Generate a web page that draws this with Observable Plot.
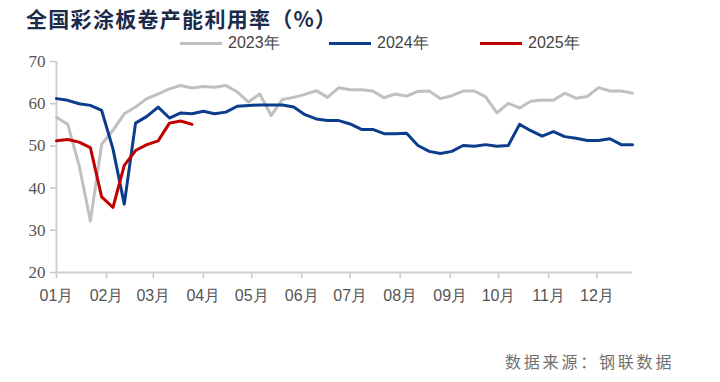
<!DOCTYPE html>
<html><head><meta charset="utf-8">
<script src="https://cdn.jsdelivr.net/npm/d3@7"></script>
<script src="https://cdn.jsdelivr.net/npm/@observablehq/plot@0.6"></script>
<style>
body{margin:0;background:#fff;}
#wrap{position:relative;width:720px;height:382px;overflow:hidden;font-family:"Liberation Sans",Arial,sans-serif;}
#title{position:absolute;left:26px;top:4px;font-weight:700;font-size:21px;line-height:28px;letter-spacing:1.3px;font-family:"Noto Sans CJK SC",sans-serif;color:#1c2b4a;white-space:nowrap;}
.leg{position:absolute;top:33px;height:20px;line-height:20px;display:flex;align-items:center;font-size:16px;color:#444;white-space:nowrap;}
.leg .sw{display:inline-block;width:42px;height:3px;margin-right:6px;}
#plot{position:absolute;left:0;top:50px;}
#src{position:absolute;left:505px;top:350px;font-size:16px;line-height:22px;font-family:"Noto Sans CJK SC",sans-serif;color:#707070;letter-spacing:2.8px;white-space:nowrap;}
</style></head>
<body>
<div id="wrap">
  <div id="title"></div>
  <div id="legend"></div>
  <div id="plot"></div>
  <div id="src"></div>
</div>
<script>
const titleText = "全国彩涂板卷产能利用率（%）";
const sourceText = "数据来源：钢联数据";
const seriesNames = ["2023年", "2024年", "2025年"];
const seriesColors = ["#c0c0c0", "#0b3d8c", "#c00000"];
const monthLabels = ["01月","02月","03月","04月","05月","06月","07月","08月","09月","10月","11月","12月"];

const v2023 = [56.8, 55.1, 45.4, 32.2, 50.4, 53.7, 57.6, 59.2, 61.2, 62.3, 63.5, 64.3, 63.7, 64.1, 63.9, 64.3,
  62.8, 60.4, 62.3, 57.2, 61.0, 61.5, 62.2, 63.1, 61.5, 63.8, 63.3, 63.3, 63.0, 61.4, 62.3, 61.8, 62.9,
  63.0, 61.2, 61.9, 63.0, 63.0, 61.6, 57.8, 60.1, 59.0, 60.6, 60.9, 60.8, 62.5, 61.3, 61.7, 63.8, 63.0, 63.0, 62.5];
const v2024 = [61.2, 60.8, 60.0, 59.6, 58.4, 49.3, 36.2, 55.4, 57.0, 59.2, 56.6, 57.8, 57.6, 58.2, 57.6, 58.0,
  59.4, 59.6, 59.7, 59.7, 59.7, 59.2, 57.4, 56.4, 56.0, 56.0, 55.2, 53.9, 53.9, 52.9, 52.9, 53.0, 50.1,
  48.7, 48.2, 48.7, 50.1, 49.9, 50.3, 49.9, 50.1, 55.1, 53.6, 52.3, 53.4, 52.2, 51.8, 51.3, 51.3, 51.7, 50.3, 50.3];
const v2025 = [51.2, 51.5, 50.9, 49.6, 37.9, 35.4, 45.4, 48.9, 50.3, 51.2, 55.4, 55.9, 55.1];
const yTicks = [20, 30, 40, 50, 60, 70];

document.getElementById("title").textContent = titleText;
document.getElementById("src").textContent = sourceText;

// legend
const legLefts = [180, 329, 480];
const legend = document.getElementById("legend");
seriesNames.forEach((n, i) => {
  const d = document.createElement("div");
  d.className = "leg";
  d.style.left = legLefts[i] + "px";
  const sw = document.createElement("span");
  sw.className = "sw";
  sw.style.background = seriesColors[i];
  const t = document.createElement("span");
  t.textContent = n;
  d.appendChild(sw); d.appendChild(t);
  legend.appendChild(d);
});

const start = Date.UTC(2024, 0, 1);
const dayMs = 864e5;
const weekDate = i => new Date(start + i * 7 * dayMs);
const rows = [];
[v2023, v2024, v2025].forEach((arr, s) => {
  arr.forEach((v, i) => rows.push({date: weekDate(i), value: v, series: seriesNames[s]}));
});
const monthTicks = monthLabels.map((m, i) => new Date(Date.UTC(2024, i, 1)));
const fmt = d => monthLabels[d.getUTCMonth()];

const chart = Plot.plot({
  width: 720,
  height: 260,
  marginLeft: 56,
  marginRight: 88,
  marginTop: 11,
  marginBottom: 38,
  style: {fontFamily: "Liberation Sans, Arial, sans-serif", background: "#fff", overflow: "visible"},
  x: {type: "utc", domain: [weekDate(0), weekDate(51)]},
  y: {domain: [20, 70]},
  color: {domain: seriesNames, range: seriesColors},
  marks: [
    Plot.axisX({ticks: monthTicks, tickFormat: fmt, tickSize: 6, tickPadding: 11, stroke: "#c8c8c8", fill: "#555", fontSize: 16, label: null, strokeWidth: 1.5}),
    Plot.axisY({ticks: yTicks, tickSize: 6, tickPadding: 5, stroke: "#c8c8c8", fill: "#555", fontSize: 17, fontFamily: "Liberation Serif, serif", label: null, strokeWidth: 1.5}),
    Plot.ruleY([20], {stroke: "#d0d0d0", strokeWidth: 2}),
    Plot.ruleX([weekDate(0)], {stroke: "#d0d0d0", strokeWidth: 2}),
    Plot.line(rows, {x: "date", y: "value", z: "series", stroke: "series", strokeWidth: 3, strokeLinejoin: "round"})
  ]
});
document.getElementById("plot").appendChild(chart);
</script>
</body></html>
